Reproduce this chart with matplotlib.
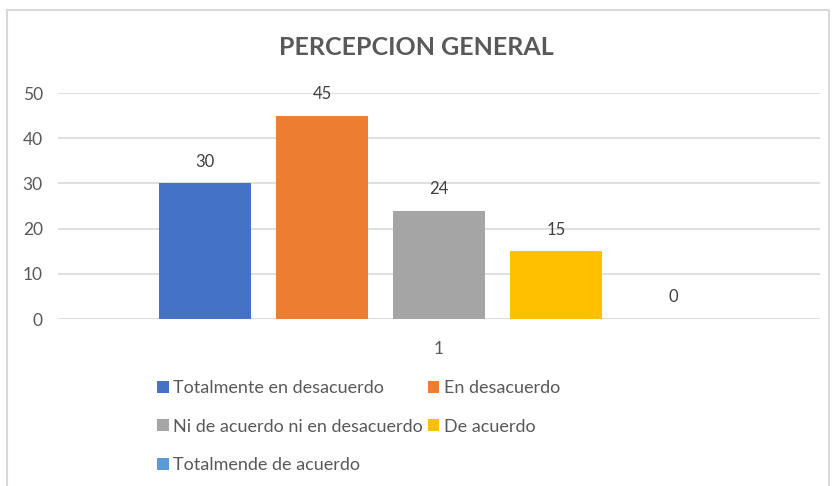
import numpy as np
import matplotlib.pyplot as plt
from matplotlib.patches import Rectangle

# data -------------------------------------------------------------
series = ['Totalmente en desacuerdo', 'En desacuerdo',
          'Ni de acuerdo ni en desacuerdo', 'De acuerdo',
          'Totalmende de acuerdo']
values = [30, 45, 24, 15, 0]
colors = ['#4472C4', '#ED7D31', '#A5A5A5', '#FFC000', '#5B9BD5']
category = '1'

plt.rcParams['font.family'] = ['Lato', 'DejaVu Sans']

fig = plt.figure(figsize=(8.32, 4.86), dpi=100)
ax = fig.add_axes([58 / 832, 1 - 319 / 486, 762 / 832, 226 / 486])

# chart border (Excel-like)
fig.patches.append(Rectangle((7 / 832, -0.05), 822 / 832, 1.05 - 10 / 486,
                             transform=fig.transFigure, fill=False,
                             edgecolor='#D9D9D9', linewidth=1.5))

n = len(values)
offsets = np.arange(n) - (n - 1) / 2
bars = []
for i in range(n):
    b = ax.bar(offsets[i], values[i], width=0.786, color=colors[i],
               label=series[i], zorder=3)
    bars.append(b)
    ax.text(offsets[i], values[i] + 3, str(values[i]), ha='center',
            va='bottom', fontsize=12, color='#404040')

ax.set_xlim(-3.256, 3.256)
ax.set_ylim(0, 50)
ax.set_yticks(np.arange(0, 51, 10))
ax.set_xticks([0])
ax.set_xticklabels([category])
ax.tick_params(axis='both', length=0, labelsize=12.5, labelcolor='#595959')
ax.tick_params(axis='y', pad=11)
ax.tick_params(axis='x', pad=16)
ax.grid(axis='y', color='#D9D9D9', linewidth=1.2, zorder=0)
for s in ax.spines.values():
    s.set_visible(False)

fig.text(0.5, 1 - 47 / 486, 'PERCEPCION GENERAL', ha='center', va='center',
         fontsize=18, fontweight='bold', color='#595959')

order = [0, 2, 4, 1, 3]
fig.legend([bars[i] for i in order], [series[i] for i in order], ncol=2,
           loc='upper left', bbox_to_anchor=(157 / 832, 1 - 380 / 486),
           frameon=False, fontsize=13, labelcolor='#595959',
           handlelength=0.65, handleheight=0.65, handletextpad=0.25,
           columnspacing=0.25, labelspacing=1.25, borderaxespad=0,
           borderpad=0)

fig.savefig('out.png', dpi=100)
